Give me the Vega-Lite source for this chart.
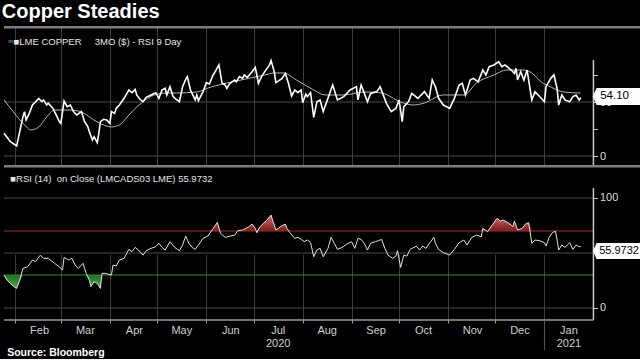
{
 "$schema": "https://vega.github.io/schema/vega-lite/v6.json",
 "background": "#000000",
 "padding": {"left": 0, "right": 0, "top": 2, "bottom": 0},
 "bounds": "flush",
 "spacing": 0,
 "config": {"view": {"stroke": null}, "font": "Liberation Sans"},
 "title": {"text": "Copper Steadies", "anchor": "start", "color": "#ffffff", "font": "Liberation Sans", "fontSize": 20, "fontWeight": "bold", "offset": 4, "dx": 1},
 "datasets": {
  "rsi9": [
   {"date":"2020-01-25","v":21.0},{"date":"2020-01-29","v":13.3},{"date":"2020-02-02","v":9.3},{"date":"2020-02-06","v":36.4},{"date":"2020-02-07","v":41.1},{"date":"2020-02-08","v":33.3},{"date":"2020-02-10","v":39.5},{"date":"2020-02-12","v":47.2},{"date":"2020-02-14","v":50.3},{"date":"2020-02-16","v":53.4},{"date":"2020-02-18","v":50.3},{"date":"2020-02-19","v":51.9},{"date":"2020-02-21","v":47.2},{"date":"2020-02-22","v":48.8},{"date":"2020-02-25","v":44.1},{"date":"2020-02-27","v":38.0},{"date":"2020-02-29","v":31.8},{"date":"2020-03-01","v":30.2},{"date":"2020-03-03","v":50.9},{"date":"2020-03-05","v":45.7},{"date":"2020-03-07","v":47.2},{"date":"2020-03-09","v":41.1},{"date":"2020-03-11","v":38.0},{"date":"2020-03-14","v":41.1},{"date":"2020-03-16","v":31.8},{"date":"2020-03-18","v":27.2},{"date":"2020-03-19","v":22.5},{"date":"2020-03-21","v":14.8},{"date":"2020-03-22","v":17.9},{"date":"2020-03-24","v":12.4},{"date":"2020-03-25","v":21.0},{"date":"2020-03-26","v":31.8},{"date":"2020-03-28","v":34.0},{"date":"2020-03-30","v":33.3},{"date":"2020-04-01","v":30.2},{"date":"2020-04-02","v":41.1},{"date":"2020-04-04","v":39.5},{"date":"2020-04-05","v":44.1},{"date":"2020-04-07","v":47.2},{"date":"2020-04-10","v":53.4},{"date":"2020-04-13","v":61.1},{"date":"2020-04-15","v":58.6},{"date":"2020-04-17","v":61.7},{"date":"2020-04-18","v":56.5},{"date":"2020-04-20","v":52.5},{"date":"2020-04-22","v":50.3},{"date":"2020-04-24","v":54.3},{"date":"2020-04-27","v":56.5},{"date":"2020-04-30","v":58.6},{"date":"2020-05-02","v":53.4},{"date":"2020-05-04","v":61.1},{"date":"2020-05-06","v":62.7},{"date":"2020-05-07","v":56.5},{"date":"2020-05-09","v":64.2},{"date":"2020-05-11","v":55.0},{"date":"2020-05-13","v":52.5},{"date":"2020-05-15","v":50.3},{"date":"2020-05-17","v":64.2},{"date":"2020-05-19","v":71.0},{"date":"2020-05-20","v":73.5},{"date":"2020-05-22","v":61.1},{"date":"2020-05-23","v":58.0},{"date":"2020-05-25","v":51.9},{"date":"2020-05-26","v":56.5},{"date":"2020-05-27","v":51.2},{"date":"2020-05-30","v":59.6},{"date":"2020-06-01","v":67.9},{"date":"2020-06-03","v":66.7},{"date":"2020-06-05","v":74.1},{"date":"2020-06-07","v":79.0},{"date":"2020-06-09","v":84.3},{"date":"2020-06-11","v":67.3},{"date":"2020-06-13","v":65.7},{"date":"2020-06-14","v":62.6},{"date":"2020-06-16","v":67.3},{"date":"2020-06-19","v":70.4},{"date":"2020-06-20","v":68.8},{"date":"2020-06-22","v":73.5},{"date":"2020-06-24","v":71.9},{"date":"2020-06-25","v":75.0},{"date":"2020-06-27","v":72.8},{"date":"2020-06-30","v":78.1},{"date":"2020-07-02","v":82.1},{"date":"2020-07-03","v":75.0},{"date":"2020-07-04","v":67.3},{"date":"2020-07-06","v":73.5},{"date":"2020-07-08","v":78.1},{"date":"2020-07-11","v":84.3},{"date":"2020-07-12","v":88.3},{"date":"2020-07-14","v":78.1},{"date":"2020-07-15","v":67.9},{"date":"2020-07-17","v":69.8},{"date":"2020-07-19","v":71.9},{"date":"2020-07-21","v":76.5},{"date":"2020-07-23","v":67.3},{"date":"2020-07-25","v":55.6},{"date":"2020-07-27","v":61.1},{"date":"2020-07-29","v":58.6},{"date":"2020-07-31","v":61.1},{"date":"2020-08-01","v":49.4},{"date":"2020-08-03","v":57.4},{"date":"2020-08-04","v":55.0},{"date":"2020-08-06","v":58.6},{"date":"2020-08-08","v":35.8},{"date":"2020-08-10","v":50.3},{"date":"2020-08-12","v":51.9},{"date":"2020-08-14","v":41.1},{"date":"2020-08-20","v":65.7},{"date":"2020-08-23","v":51.9},{"date":"2020-08-27","v":55.0},{"date":"2020-08-31","v":61.1},{"date":"2020-09-04","v":64.2},{"date":"2020-09-05","v":51.9},{"date":"2020-09-07","v":65.7},{"date":"2020-09-09","v":58.0},{"date":"2020-09-11","v":50.3},{"date":"2020-09-13","v":58.0},{"date":"2020-09-17","v":59.6},{"date":"2020-09-19","v":64.2},{"date":"2020-09-23","v":48.8},{"date":"2020-09-26","v":41.1},{"date":"2020-09-29","v":44.1},{"date":"2020-10-01","v":51.9},{"date":"2020-10-03","v":31.8},{"date":"2020-10-04","v":45.7},{"date":"2020-10-07","v":50.3},{"date":"2020-10-09","v":58.0},{"date":"2020-10-13","v":53.4},{"date":"2020-10-17","v":59.6},{"date":"2020-10-20","v":53.4},{"date":"2020-10-22","v":70.4},{"date":"2020-10-24","v":64.2},{"date":"2020-10-26","v":53.4},{"date":"2020-10-29","v":47.2},{"date":"2020-11-02","v":44.1},{"date":"2020-11-05","v":53.4},{"date":"2020-11-08","v":65.7},{"date":"2020-11-10","v":67.3},{"date":"2020-11-12","v":56.5},{"date":"2020-11-15","v":70.4},{"date":"2020-11-17","v":71.9},{"date":"2020-11-20","v":68.8},{"date":"2020-11-23","v":79.6},{"date":"2020-11-25","v":75.0},{"date":"2020-11-27","v":82.7},{"date":"2020-11-30","v":84.3},{"date":"2020-12-03","v":87.3},{"date":"2020-12-05","v":82.7},{"date":"2020-12-07","v":84.3},{"date":"2020-12-11","v":79.6},{"date":"2020-12-13","v":76.5},{"date":"2020-12-14","v":81.2},{"date":"2020-12-15","v":70.4},{"date":"2020-12-17","v":78.1},{"date":"2020-12-19","v":70.4},{"date":"2020-12-21","v":79.6},{"date":"2020-12-24","v":51.9},{"date":"2020-12-26","v":59.6},{"date":"2020-12-28","v":56.5},{"date":"2021-01-01","v":50.3},{"date":"2021-01-02","v":64.2},{"date":"2021-01-05","v":71.9},{"date":"2021-01-07","v":75.0},{"date":"2021-01-09","v":62.7},{"date":"2021-01-10","v":47.2},{"date":"2021-01-12","v":56.5},{"date":"2021-01-14","v":51.9},{"date":"2021-01-17","v":50.3},{"date":"2021-01-19","v":55.0},{"date":"2021-01-21","v":56.5},{"date":"2021-01-23","v":51.9},{"date":"2021-01-24","v":54.1}
  ],
  "ma9": [
   {"date":"2020-01-25","v":51.9},{"date":"2020-01-31","v":40.7},{"date":"2020-02-07","v":28.7},{"date":"2020-02-11","v":24.1},{"date":"2020-02-16","v":26.9},{"date":"2020-02-21","v":36.1},{"date":"2020-02-26","v":42.6},{"date":"2020-03-03","v":42.6},{"date":"2020-03-07","v":42.6},{"date":"2020-03-14","v":40.7},{"date":"2020-03-24","v":31.5},{"date":"2020-04-02","v":26.9},{"date":"2020-04-07","v":28.7},{"date":"2020-04-12","v":36.1},{"date":"2020-04-16","v":42.6},{"date":"2020-04-21","v":49.1},{"date":"2020-04-29","v":56.5},{"date":"2020-05-07","v":58.3},{"date":"2020-05-13","v":58.3},{"date":"2020-05-26","v":59.3},{"date":"2020-06-04","v":63.9},{"date":"2020-06-17","v":68.5},{"date":"2020-06-29","v":72.2},{"date":"2020-07-08","v":75.0},{"date":"2020-07-14","v":76.9},{"date":"2020-07-20","v":76.9},{"date":"2020-07-28","v":70.4},{"date":"2020-08-08","v":61.1},{"date":"2020-08-15","v":56.5},{"date":"2020-08-27","v":56.5},{"date":"2020-09-09","v":59.3},{"date":"2020-09-20","v":58.3},{"date":"2020-10-02","v":50.0},{"date":"2020-10-10","v":47.2},{"date":"2020-10-17","v":49.1},{"date":"2020-10-29","v":56.5},{"date":"2020-11-11","v":56.5},{"date":"2020-11-19","v":67.6},{"date":"2020-11-30","v":75.0},{"date":"2020-12-08","v":79.6},{"date":"2020-12-19","v":79.6},{"date":"2020-12-24","v":76.9},{"date":"2020-12-30","v":68.5},{"date":"2021-01-05","v":63.9},{"date":"2021-01-13","v":59.3},{"date":"2021-01-24","v":58.3}
  ],
  "rsi14": [
   {"date":"2020-01-25","v":30.0},{"date":"2020-01-27","v":25.4},{"date":"2020-01-30","v":20.9},{"date":"2020-02-02","v":17.8},{"date":"2020-02-04","v":25.4},{"date":"2020-02-06","v":36.0},{"date":"2020-02-09","v":37.5},{"date":"2020-02-12","v":43.6},{"date":"2020-02-14","v":42.1},{"date":"2020-02-17","v":48.1},{"date":"2020-02-19","v":45.1},{"date":"2020-02-22","v":45.1},{"date":"2020-02-26","v":40.6},{"date":"2020-02-29","v":37.5},{"date":"2020-03-02","v":34.5},{"date":"2020-03-03","v":46.0},{"date":"2020-03-06","v":43.6},{"date":"2020-03-08","v":45.1},{"date":"2020-03-10","v":39.1},{"date":"2020-03-12","v":36.0},{"date":"2020-03-15","v":40.6},{"date":"2020-03-17","v":31.5},{"date":"2020-03-19","v":25.4},{"date":"2020-03-20","v":19.4},{"date":"2020-03-22","v":23.9},{"date":"2020-03-24","v":22.4},{"date":"2020-03-26","v":17.8},{"date":"2020-03-27","v":31.5},{"date":"2020-03-29","v":31.5},{"date":"2020-04-02","v":30.0},{"date":"2020-04-03","v":39.1},{"date":"2020-04-05","v":38.1},{"date":"2020-04-07","v":43.6},{"date":"2020-04-10","v":45.1},{"date":"2020-04-13","v":53.3},{"date":"2020-04-15","v":51.2},{"date":"2020-04-17","v":55.1},{"date":"2020-04-19","v":52.7},{"date":"2020-04-22","v":48.1},{"date":"2020-04-24","v":52.1},{"date":"2020-04-27","v":54.2},{"date":"2020-04-30","v":55.7},{"date":"2020-05-02","v":58.8},{"date":"2020-05-04","v":55.1},{"date":"2020-05-06","v":52.7},{"date":"2020-05-09","v":60.3},{"date":"2020-05-12","v":55.1},{"date":"2020-05-15","v":52.1},{"date":"2020-05-17","v":57.2},{"date":"2020-05-19","v":65.4},{"date":"2020-05-21","v":58.8},{"date":"2020-05-23","v":55.1},{"date":"2020-05-25","v":53.3},{"date":"2020-05-27","v":57.2},{"date":"2020-05-30","v":63.3},{"date":"2020-06-02","v":65.4},{"date":"2020-06-05","v":71.5},{"date":"2020-06-08","v":77.8},{"date":"2020-06-10","v":67.8},{"date":"2020-06-13","v":64.2},{"date":"2020-06-16","v":65.4},{"date":"2020-06-19","v":66.3},{"date":"2020-06-21","v":70.3},{"date":"2020-06-24","v":70.9},{"date":"2020-06-26","v":72.4},{"date":"2020-06-28","v":73.9},{"date":"2020-06-30","v":76.3},{"date":"2020-07-02","v":72.4},{"date":"2020-07-03","v":68.4},{"date":"2020-07-05","v":73.9},{"date":"2020-07-09","v":79.4},{"date":"2020-07-12","v":84.5},{"date":"2020-07-15","v":70.9},{"date":"2020-07-18","v":73.9},{"date":"2020-07-21","v":76.3},{"date":"2020-07-22","v":72.4},{"date":"2020-07-24","v":68.4},{"date":"2020-07-27","v":63.3},{"date":"2020-07-29","v":64.2},{"date":"2020-07-31","v":62.4},{"date":"2020-08-02","v":60.3},{"date":"2020-08-04","v":61.8},{"date":"2020-08-06","v":59.4},{"date":"2020-08-08","v":46.6},{"date":"2020-08-10","v":52.7},{"date":"2020-08-12","v":54.2},{"date":"2020-08-14","v":46.6},{"date":"2020-08-17","v":54.2},{"date":"2020-08-19","v":64.2},{"date":"2020-08-23","v":53.3},{"date":"2020-08-26","v":55.1},{"date":"2020-08-29","v":58.1},{"date":"2020-09-01","v":60.3},{"date":"2020-09-03","v":54.2},{"date":"2020-09-05","v":63.3},{"date":"2020-09-07","v":62.4},{"date":"2020-09-09","v":58.8},{"date":"2020-09-11","v":52.7},{"date":"2020-09-13","v":58.8},{"date":"2020-09-16","v":60.3},{"date":"2020-09-18","v":61.2},{"date":"2020-09-20","v":62.4},{"date":"2020-09-22","v":54.2},{"date":"2020-09-24","v":48.1},{"date":"2020-09-27","v":45.1},{"date":"2020-09-29","v":47.2},{"date":"2020-09-30","v":52.1},{"date":"2020-10-02","v":36.9},{"date":"2020-10-04","v":48.1},{"date":"2020-10-06","v":47.2},{"date":"2020-10-08","v":53.3},{"date":"2020-10-12","v":56.3},{"date":"2020-10-14","v":52.7},{"date":"2020-10-16","v":56.3},{"date":"2020-10-18","v":54.2},{"date":"2020-10-21","v":60.3},{"date":"2020-10-23","v":64.2},{"date":"2020-10-24","v":58.8},{"date":"2020-10-26","v":53.3},{"date":"2020-10-29","v":50.3},{"date":"2020-11-02","v":48.1},{"date":"2020-11-05","v":53.3},{"date":"2020-11-08","v":59.4},{"date":"2020-11-11","v":61.8},{"date":"2020-11-13","v":57.2},{"date":"2020-11-16","v":64.2},{"date":"2020-11-19","v":66.3},{"date":"2020-11-22","v":64.8},{"date":"2020-11-23","v":72.4},{"date":"2020-11-26","v":69.4},{"date":"2020-11-29","v":75.4},{"date":"2020-12-02","v":81.5},{"date":"2020-12-04","v":79.1},{"date":"2020-12-06","v":80.0},{"date":"2020-12-09","v":77.5},{"date":"2020-12-11","v":75.4},{"date":"2020-12-12","v":73.9},{"date":"2020-12-13","v":79.1},{"date":"2020-12-15","v":70.9},{"date":"2020-12-18","v":72.4},{"date":"2020-12-20","v":76.3},{"date":"2020-12-22","v":77.5},{"date":"2020-12-24","v":58.8},{"date":"2020-12-26","v":61.8},{"date":"2020-12-29","v":61.2},{"date":"2021-01-01","v":59.4},{"date":"2021-01-02","v":56.3},{"date":"2021-01-04","v":64.2},{"date":"2021-01-06","v":68.5},{"date":"2021-01-08","v":69.8},{"date":"2021-01-09","v":61.8},{"date":"2021-01-10","v":52.7},{"date":"2021-01-12","v":57.2},{"date":"2021-01-14","v":55.1},{"date":"2021-01-17","v":59.4},{"date":"2021-01-19","v":53.3},{"date":"2021-01-21","v":57.2},{"date":"2021-01-23","v":55.7},{"date":"2021-01-24","v":55.97}
  ]
 },
 "vconcat": [
  {
   "width": 640, "height": 139,
   "layer": [
    {"data": {"values": [{}]}, "mark": {"type": "rule", "color": "#4a4a4a", "strokeWidth": 1},
     "encoding": {"x": {"datum": {"year":2020,"month":1,"date":25,"utc":true}, "type": "temporal", "scale": {"domain": [{"year":2020,"month":1,"date":25,"utc":true},{"year":2021,"month":3,"date":5,"utc":true}]}}, "x2": {"datum": {"year":2021,"month":2,"date":1,"utc":true}}, "y": {"datum": 0, "type": "quantitative", "scale": {"domain": [-8.33, 120.37], "nice": false, "zero": false}}}},
    {"data": {"values": [{}]}, "mark": {"type": "rule", "color": "#4a4a4a", "strokeWidth": 1},
     "encoding": {"x": {"datum": {"year":2020,"month":1,"date":25,"utc":true}, "type": "temporal", "scale": {"domain": [{"year":2020,"month":1,"date":25,"utc":true},{"year":2021,"month":3,"date":5,"utc":true}]}}, "x2": {"datum": {"year":2021,"month":2,"date":1,"utc":true}}, "y": {"datum": 50, "type": "quantitative", "scale": {"domain": [-8.33, 120.37], "nice": false, "zero": false}}}},
    {"data": {"name": "ma9"}, "mark": {"type": "line", "color": "#b5b5b5", "strokeWidth": 1, "interpolate": "monotone"},
     "encoding": {"x": {"field": "date", "type": "temporal", "scale": {"domain": [{"year":2020,"month":1,"date":25,"utc":true},{"year":2021,"month":3,"date":5,"utc":true}]}}, "y": {"field": "v", "type": "quantitative", "scale": {"domain": [-8.33, 120.37], "nice": false, "zero": false}}}},
    {"data": {"name": "rsi9"}, "mark": {"type": "line", "color": "#ffffff", "strokeWidth": 1.6},
     "encoding": {
      "x": {"field": "date", "type": "temporal", "scale": {"domain": [{"year":2020,"month":1,"date":25,"utc":true},{"year":2021,"month":3,"date":5,"utc":true}]},
            "axis": {"values": [{"year":2020,"month":2,"date":1,"utc":true},{"year":2020,"month":3,"date":1,"utc":true},{"year":2020,"month":4,"date":1,"utc":true},{"year":2020,"month":5,"date":1,"utc":true},{"year":2020,"month":6,"date":1,"utc":true},{"year":2020,"month":7,"date":1,"utc":true},{"year":2020,"month":8,"date":1,"utc":true},{"year":2020,"month":9,"date":1,"utc":true},{"year":2020,"month":10,"date":1,"utc":true},{"year":2020,"month":11,"date":1,"utc":true},{"year":2020,"month":12,"date":1,"utc":true},{"year":2021,"month":1,"date":1,"utc":true}],
                     "labels": false, "ticks": false, "domain": false, "grid": true, "gridColor": "#3d3d3d", "gridWidth": 1, "title": null}},
      "y": {"field": "v", "type": "quantitative", "scale": {"domain": [-8.33, 120.37], "nice": false, "zero": false},
            "axis": {"orient": "right", "offset": -50.6, "values": [0, 25, 50, 75], "labelExpr": "datum.value == 0 || datum.value == 50 ? datum.label : ''", "grid": false, "domain": false, "ticks": true, "tickColor": "#c8c8c8", "tickSize": 4, "labelColor": "#dddddd", "labelFont": "Liberation Sans", "labelFontSize": 11, "labelPadding": 2, "title": null}}
     }},
    {"data": {"values": [{}]}, "mark": {"type": "rule", "color": "#c8c8c8", "strokeWidth": 1.5},
     "encoding": {"x": {"datum": {"year":2021,"month":2,"date":1,"utc":true}, "type": "temporal", "scale": {"domain": [{"year":2020,"month":1,"date":25,"utc":true},{"year":2021,"month":3,"date":5,"utc":true}]}}, "y": {"datum": 88.9, "type": "quantitative", "scale": {"domain": [-8.33, 120.37], "nice": false, "zero": false}}, "y2": {"datum": -8.33}}},
    {"data": {"values": [{}]}, "mark": {"type": "rule", "color": "#7f7f78", "strokeWidth": 2.5},
     "encoding": {"x": {"datum": {"year":2020,"month":1,"date":25,"utc":true}, "type": "temporal", "scale": {"domain": [{"year":2020,"month":1,"date":25,"utc":true},{"year":2021,"month":3,"date":5,"utc":true}]}}, "x2": {"datum": {"year":2021,"month":3,"date":5,"utc":true}}, "y": {"datum": 119.2, "type": "quantitative", "scale": {"domain": [-8.33, 120.37], "nice": false, "zero": false}}}},
    {"data": {"values": [{}]}, "mark": {"type": "rect", "color": "#ffffff", "cornerRadius": 3},
     "encoding": {"x": {"datum": {"year":2021,"month":2,"date":3,"utc":true}, "type": "temporal", "scale": {"domain": [{"year":2020,"month":1,"date":25,"utc":true},{"year":2021,"month":3,"date":5,"utc":true}]}}, "x2": {"datum": {"year":2021,"month":3,"date":5,"utc":true}}, "y": {"datum": 47.2, "type": "quantitative", "scale": {"domain": [-8.33, 120.37], "nice": false, "zero": false}}, "y2": {"datum": 63.0}}},
    {"data": {"values": [{}]}, "mark": {"type": "point", "filled": true, "color": "#ffffff", "opacity": 1, "size": 289, "shape": "M 0.6 -1 L 0 -1 L -0.45 0 L 0 1 L 0.6 1 Z"},
     "encoding": {"x": {"datum": {"year":2021,"month":2,"date":3,"utc":true}, "type": "temporal", "scale": {"domain": [{"year":2020,"month":1,"date":25,"utc":true},{"year":2021,"month":3,"date":5,"utc":true}]}}, "y": {"datum": 55.1, "type": "quantitative", "scale": {"domain": [-8.33, 120.37], "nice": false, "zero": false}}}},
    {"data": {"values": [{}]}, "mark": {"type": "text", "text": "54.10", "color": "#000000", "font": "Liberation Sans", "fontSize": 11.5, "align": "left", "baseline": "middle", "dx": 2},
     "encoding": {"x": {"datum": {"year":2021,"month":2,"date":4,"utc":true}, "type": "temporal", "scale": {"domain": [{"year":2020,"month":1,"date":25,"utc":true},{"year":2021,"month":3,"date":5,"utc":true}]}}, "y": {"datum": 55.1, "type": "quantitative", "scale": {"domain": [-8.33, 120.37], "nice": false, "zero": false}}}},
    {"data": {"values": [{}]}, "mark": {"type": "text", "text": "■LME COPPER\u00a0\u00a0\u00a0\u00a0\u00a03MO ($) - RSI 9 Day", "color": "#e6e6e6", "font": "Liberation Sans", "fontSize": 9.5, "align": "left", "baseline": "middle"},
     "encoding": {"x": {"datum": {"year":2020,"month":1,"date":31,"utc":true}, "type": "temporal", "scale": {"domain": [{"year":2020,"month":1,"date":25,"utc":true},{"year":2021,"month":3,"date":5,"utc":true}]}}, "y": {"datum": 106, "type": "quantitative", "scale": {"domain": [-8.33, 120.37], "nice": false, "zero": false}}}},
    {"data": {"values": [{}]}, "mark": {"type": "text", "text": "≡", "color": "#777777", "font": "DejaVu Sans", "fontSize": 8, "align": "left", "baseline": "middle"},
     "encoding": {"x": {"datum": {"year":2020,"month":1,"date":27,"utc":true}, "type": "temporal", "scale": {"domain": [{"year":2020,"month":1,"date":25,"utc":true},{"year":2021,"month":3,"date":5,"utc":true}]}}, "y": {"datum": 106, "type": "quantitative", "scale": {"domain": [-8.33, 120.37], "nice": false, "zero": false}}}}
   ]
  },
  {
   "width": 640, "height": 155,
   "resolve": {"scale": {"y": "independent"}},
   "layer": [
    {"data": {"name": "rsi14"}, "mark": {"type": "area", "color": {"gradient": "linear", "x1": 0, "y1": 0, "x2": 0, "y2": 1, "stops": [{"offset": 0, "color": "#d36a6a"}, {"offset": 1, "color": "#7a1c1c"}]}},
     "encoding": {"x": {"field": "date", "type": "temporal", "scale": {"domain": [{"year":2020,"month":1,"date":25,"utc":true},{"year":2021,"month":3,"date":5,"utc":true}]}}, "y": {"field": "v", "type": "quantitative", "scale": {"domain": [70, 130], "range": [66, 0], "clamp": true, "nice": false, "zero": false}, "axis": null}, "y2": {"datum": 70}}},
    {"data": {"name": "rsi14"}, "mark": {"type": "area", "color": {"gradient": "linear", "x1": 0, "y1": 0, "x2": 0, "y2": 1, "stops": [{"offset": 0, "color": "#1f6e1f"}, {"offset": 1, "color": "#4cae4c"}]}},
     "encoding": {"x": {"field": "date", "type": "temporal", "scale": {"domain": [{"year":2020,"month":1,"date":25,"utc":true},{"year":2021,"month":3,"date":5,"utc":true}]}}, "y": {"field": "v", "type": "quantitative", "scale": {"domain": [-10.91, 30], "range": [155, 110], "clamp": true, "nice": false, "zero": false}, "axis": null}, "y2": {"datum": 30}}},
    {
     "layer": [
      {"data": {"values": [{}]}, "mark": {"type": "rule", "color": "#4a4a4a", "strokeWidth": 1},
       "encoding": {"x": {"datum": {"year":2020,"month":1,"date":25,"utc":true}, "type": "temporal", "scale": {"domain": [{"year":2020,"month":1,"date":25,"utc":true},{"year":2021,"month":3,"date":5,"utc":true}]}}, "x2": {"datum": {"year":2021,"month":2,"date":1,"utc":true}}, "y": {"datum": 0, "type": "quantitative", "scale": {"domain": [-10.91, 130], "nice": false, "zero": false}}}},
      {"data": {"values": [{}]}, "mark": {"type": "rule", "color": "#4a4a4a", "strokeWidth": 1},
       "encoding": {"x": {"datum": {"year":2020,"month":1,"date":25,"utc":true}, "type": "temporal", "scale": {"domain": [{"year":2020,"month":1,"date":25,"utc":true},{"year":2021,"month":3,"date":5,"utc":true}]}}, "x2": {"datum": {"year":2021,"month":2,"date":1,"utc":true}}, "y": {"datum": 50, "type": "quantitative", "scale": {"domain": [-10.91, 130], "nice": false, "zero": false}}}},
      {"data": {"values": [{}]}, "mark": {"type": "rule", "color": "#4a4a4a", "strokeWidth": 1},
       "encoding": {"x": {"datum": {"year":2020,"month":1,"date":25,"utc":true}, "type": "temporal", "scale": {"domain": [{"year":2020,"month":1,"date":25,"utc":true},{"year":2021,"month":3,"date":5,"utc":true}]}}, "x2": {"datum": {"year":2021,"month":2,"date":1,"utc":true}}, "y": {"datum": 100, "type": "quantitative", "scale": {"domain": [-10.91, 130], "nice": false, "zero": false}}}},
      {"data": {"values": [{}]}, "mark": {"type": "rule", "color": "#a02a2a", "strokeWidth": 1.2},
       "encoding": {"x": {"datum": {"year":2020,"month":1,"date":25,"utc":true}, "type": "temporal", "scale": {"domain": [{"year":2020,"month":1,"date":25,"utc":true},{"year":2021,"month":3,"date":5,"utc":true}]}}, "x2": {"datum": {"year":2021,"month":2,"date":1,"utc":true}}, "y": {"datum": 70, "type": "quantitative", "scale": {"domain": [-10.91, 130], "nice": false, "zero": false}}}},
      {"data": {"values": [{}]}, "mark": {"type": "rule", "color": "#2f8f2f", "strokeWidth": 1.2},
       "encoding": {"x": {"datum": {"year":2020,"month":1,"date":25,"utc":true}, "type": "temporal", "scale": {"domain": [{"year":2020,"month":1,"date":25,"utc":true},{"year":2021,"month":3,"date":5,"utc":true}]}}, "x2": {"datum": {"year":2021,"month":2,"date":1,"utc":true}}, "y": {"datum": 30, "type": "quantitative", "scale": {"domain": [-10.91, 130], "nice": false, "zero": false}}}},
      {"data": {"name": "rsi14"}, "mark": {"type": "line", "color": "#e2e2e2", "strokeWidth": 1},
       "encoding": {
        "x": {"field": "date", "type": "temporal", "scale": {"domain": [{"year":2020,"month":1,"date":25,"utc":true},{"year":2021,"month":3,"date":5,"utc":true}]},
              "axis": {"values": [{"year":2020,"month":2,"date":1,"utc":true},{"year":2020,"month":3,"date":1,"utc":true},{"year":2020,"month":4,"date":1,"utc":true},{"year":2020,"month":5,"date":1,"utc":true},{"year":2020,"month":6,"date":1,"utc":true},{"year":2020,"month":7,"date":1,"utc":true},{"year":2020,"month":8,"date":1,"utc":true},{"year":2020,"month":9,"date":1,"utc":true},{"year":2020,"month":10,"date":1,"utc":true},{"year":2020,"month":11,"date":1,"utc":true},{"year":2020,"month":12,"date":1,"utc":true},{"year":2021,"month":1,"date":1,"utc":true}],
                       "labelExpr": "utcmonth(datum.value) == 6 ? ['Jul', '2020'] : (utcmonth(datum.value) == 0 ? ['Jan', '2021'] : utcFormat(datum.value, '%b'))",
                       "labelOffset": 24, "labelColor": "#d0d0d0", "labelFont": "Liberation Sans", "labelFontSize": 11, "labelPadding": 1, "labelLineHeight": 13, "labelOverlap": false, "labelFlush": false, "labelBound": false,
                       "ticks": true, "tickColor": "#9a9a9a", "tickSize": 3, "domain": false, "grid": true, "gridColor": "#3d3d3d", "gridWidth": 1, "title": null}},
        "y": {"field": "v", "type": "quantitative", "scale": {"domain": [-10.91, 130], "nice": false, "zero": false},
              "axis": {"orient": "right", "offset": -50.6, "values": [0, 25, 50, 75, 100], "labelExpr": "datum.value % 50 == 0 ? datum.label : ''", "grid": false, "domain": false, "ticks": true, "tickColor": "#c8c8c8", "tickSize": 4, "labelColor": "#dddddd", "labelFont": "Liberation Sans", "labelFontSize": 11, "labelPadding": 2, "title": null}}
       }},
      {"data": {"values": [{}]}, "mark": {"type": "rule", "color": "#c8c8c8", "strokeWidth": 1.5},
       "encoding": {"x": {"datum": {"year":2021,"month":2,"date":1,"utc":true}, "type": "temporal", "scale": {"domain": [{"year":2020,"month":1,"date":25,"utc":true},{"year":2021,"month":3,"date":5,"utc":true}]}}, "y": {"datum": 109.1, "type": "quantitative", "scale": {"domain": [-10.91, 130], "nice": false, "zero": false}}, "y2": {"datum": -10.91}}},
      {"data": {"values": [{}]}, "mark": {"type": "rule", "color": "#9a9a9a", "strokeWidth": 1.5},
       "encoding": {"x": {"datum": {"year":2020,"month":1,"date":25,"utc":true}, "type": "temporal", "scale": {"domain": [{"year":2020,"month":1,"date":25,"utc":true},{"year":2021,"month":3,"date":5,"utc":true}]}}, "x2": {"datum": {"year":2021,"month":2,"date":1,"utc":true}}, "y": {"datum": -10.91, "type": "quantitative", "scale": {"domain": [-10.91, 130], "nice": false, "zero": false}}}},
      {"data": {"values": [{}]}, "mark": {"type": "rule", "color": "#5a5a5a", "strokeWidth": 1},
       "encoding": {"x": {"datum": {"year":2021,"month":1,"date":1,"utc":true}, "type": "temporal", "scale": {"domain": [{"year":2020,"month":1,"date":25,"utc":true},{"year":2021,"month":3,"date":5,"utc":true}]}}, "y": {"datum": -10.91, "type": "quantitative", "scale": {"domain": [-10.91, 130], "nice": false, "zero": false}}, "y2": {"datum": -38.2}}},
      {"data": {"values": [{}]}, "mark": {"type": "rule", "color": "#7f7f78", "strokeWidth": 2.5},
       "encoding": {"x": {"datum": {"year":2020,"month":1,"date":25,"utc":true}, "type": "temporal", "scale": {"domain": [{"year":2020,"month":1,"date":25,"utc":true},{"year":2021,"month":3,"date":5,"utc":true}]}}, "x2": {"datum": {"year":2021,"month":3,"date":5,"utc":true}}, "y": {"datum": 128.8, "type": "quantitative", "scale": {"domain": [-10.91, 130], "nice": false, "zero": false}}}},
      {"data": {"values": [{}]}, "mark": {"type": "rect", "color": "#ffffff", "cornerRadius": 3},
       "encoding": {"x": {"datum": {"year":2021,"month":2,"date":3,"utc":true}, "type": "temporal", "scale": {"domain": [{"year":2020,"month":1,"date":25,"utc":true},{"year":2021,"month":3,"date":5,"utc":true}]}}, "x2": {"datum": {"year":2021,"month":3,"date":5,"utc":true}}, "y": {"datum": 44.5, "type": "quantitative", "scale": {"domain": [-10.91, 130], "nice": false, "zero": false}}, "y2": {"datum": 59.1}}},
      {"data": {"values": [{}]}, "mark": {"type": "point", "filled": true, "color": "#ffffff", "opacity": 1, "size": 259, "shape": "M 0.6 -1 L 0 -1 L -0.45 0 L 0 1 L 0.6 1 Z"},
       "encoding": {"x": {"datum": {"year":2021,"month":2,"date":3,"utc":true}, "type": "temporal", "scale": {"domain": [{"year":2020,"month":1,"date":25,"utc":true},{"year":2021,"month":3,"date":5,"utc":true}]}}, "y": {"datum": 51.8, "type": "quantitative", "scale": {"domain": [-10.91, 130], "nice": false, "zero": false}}}},
      {"data": {"values": [{}]}, "mark": {"type": "text", "text": "55.9732", "color": "#000000", "font": "Liberation Sans", "fontSize": 11, "align": "left", "baseline": "middle", "dx": 1},
       "encoding": {"x": {"datum": {"year":2021,"month":2,"date":4,"utc":true}, "type": "temporal", "scale": {"domain": [{"year":2020,"month":1,"date":25,"utc":true},{"year":2021,"month":3,"date":5,"utc":true}]}}, "y": {"datum": 51.8, "type": "quantitative", "scale": {"domain": [-10.91, 130], "nice": false, "zero": false}}}},
      {"data": {"values": [{}]}, "mark": {"type": "text", "text": "■RSI (14)\u00a0\u00a0on Close (LMCADS03 LME) 55.9732", "color": "#e6e6e6", "font": "Liberation Sans", "fontSize": 9.5, "align": "left", "baseline": "middle"},
       "encoding": {"x": {"datum": {"year":2020,"month":1,"date":29,"utc":true}, "type": "temporal", "scale": {"domain": [{"year":2020,"month":1,"date":25,"utc":true},{"year":2021,"month":3,"date":5,"utc":true}]}}, "y": {"datum": 117.7, "type": "quantitative", "scale": {"domain": [-10.91, 130], "nice": false, "zero": false}}}},
      {"data": {"values": [{}]}, "mark": {"type": "text", "text": "Source: Bloomberg", "color": "#ffffff", "font": "Liberation Sans", "fontSize": 10.5, "fontWeight": "bold", "align": "left", "baseline": "middle"},
       "encoding": {"x": {"datum": {"year":2020,"month":1,"date":27,"utc":true}, "type": "temporal", "scale": {"domain": [{"year":2020,"month":1,"date":25,"utc":true},{"year":2021,"month":3,"date":5,"utc":true}]}}, "y": {"datum": -40.9, "type": "quantitative", "scale": {"domain": [-10.91, 130], "nice": false, "zero": false}}}}
     ]
    }
   ]
  }
 ]
}
